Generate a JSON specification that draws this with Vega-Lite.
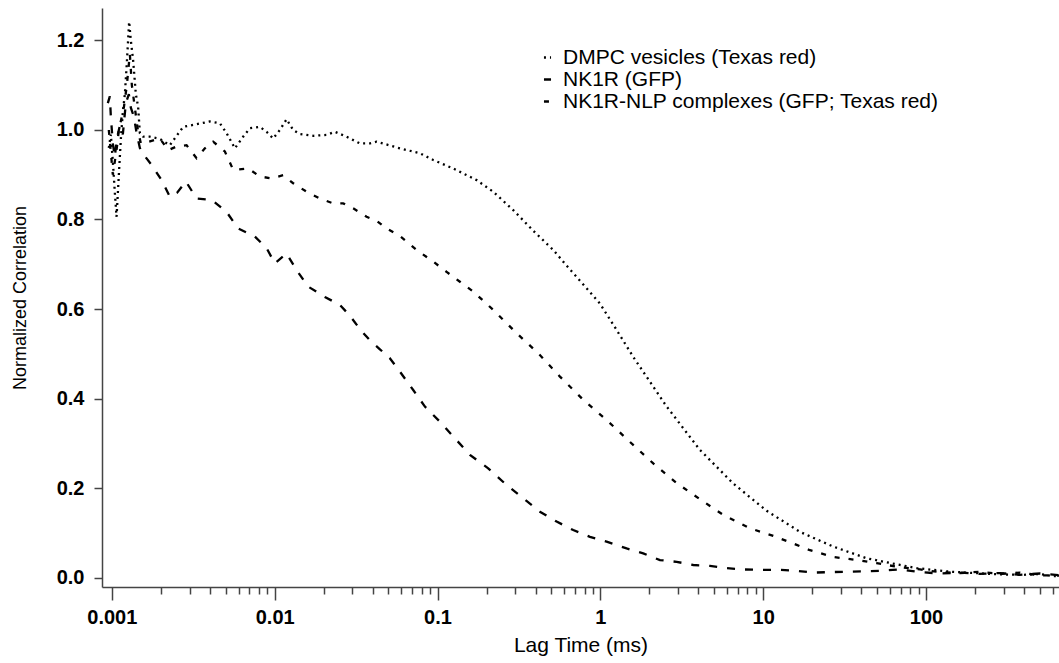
{
  "$schema": "https://vega.github.io/schema/vega-lite/v6.json",
  "width": 957,
  "height": 579,
  "autosize": {"type": "none"},
  "padding": {"left": 102, "top": 8, "right": 0, "bottom": 76},
  "background": "white",
  "config": {"view": {"stroke": null}, "font": "Liberation Sans"},
  "data": {"values": [
    {"s":"DMPC","t":0.000958,"g":0.96},{"s":"DMPC","t":0.000986,"g":0.99},{"s":"DMPC","t":0.001014,"g":0.93},{"s":"DMPC","t":0.001043,"g":0.86},{"s":"DMPC","t":0.001069,"g":0.806},{"s":"DMPC","t":0.001104,"g":0.9},{"s":"DMPC","t":0.001136,"g":0.98},{"s":"DMPC","t":0.001168,"g":1.04},{"s":"DMPC","t":0.001202,"g":1.08},{"s":"DMPC","t":0.001236,"g":1.15},{"s":"DMPC","t":0.001277,"g":1.242},{"s":"DMPC","t":0.001308,"g":1.2},{"s":"DMPC","t":0.001351,"g":1.156},{"s":"DMPC","t":0.001404,"g":1.08},{"s":"DMPC","t":0.00145,"g":1.052},{"s":"DMPC","t":0.001486,"g":0.993},{"s":"DMPC","t":0.001557,"g":0.985},{"s":"DMPC","t":0.001712,"g":0.985},{"s":"DMPC","t":0.001972,"g":0.98},{"s":"DMPC","t":0.00227,"g":0.966},{"s":"DMPC","t":0.002742,"g":1.007},{"s":"DMPC","t":0.003314,"g":1.013},{"s":"DMPC","t":0.003999,"g":1.019},{"s":"DMPC","t":0.004607,"g":1.015},{"s":"DMPC","t":0.005064,"g":0.993},{"s":"DMPC","t":0.005696,"g":0.959},{"s":"DMPC","t":0.006404,"g":0.985},{"s":"DMPC","t":0.007041,"g":1.004},{"s":"DMPC","t":0.008111,"g":1.007},{"s":"DMPC","t":0.008918,"g":0.996},{"s":"DMPC","t":0.00979,"g":0.981},{"s":"DMPC","t":0.01076,"g":1.0},{"s":"DMPC","t":0.01183,"g":1.024},{"s":"DMPC","t":0.01299,"g":1.0},{"s":"DMPC","t":0.01428,"g":0.991},{"s":"DMPC","t":0.01724,"g":0.987},{"s":"DMPC","t":0.02084,"g":0.989},{"s":"DMPC","t":0.02343,"g":0.996},{"s":"DMPC","t":0.02765,"g":0.985},{"s":"DMPC","t":0.03337,"g":0.97},{"s":"DMPC","t":0.03844,"g":0.97},{"s":"DMPC","t":0.04226,"g":0.974},{"s":"DMPC","t":0.05875,"g":0.959},{"s":"DMPC","t":0.07794,"g":0.948},{"s":"DMPC","t":0.09411,"g":0.933},{"s":"DMPC","t":0.1249,"g":0.914},{"s":"DMPC","t":0.1739,"g":0.888},{"s":"DMPC","t":0.2199,"g":0.862},{"s":"DMPC","t":0.2918,"g":0.821},{"s":"DMPC","t":0.3871,"g":0.775},{"s":"DMPC","t":0.5136,"g":0.732},{"s":"DMPC","t":0.6209,"g":0.697},{"s":"DMPC","t":0.7853,"g":0.655},{"s":"DMPC","t":0.9944,"g":0.612},{"s":"DMPC","t":1.25,"g":0.555},{"s":"DMPC","t":1.592,"g":0.493},{"s":"DMPC","t":2.555,"g":0.382},{"s":"DMPC","t":4.091,"g":0.285},{"s":"DMPC","t":6.551,"g":0.21},{"s":"DMPC","t":10.51,"g":0.149},{"s":"DMPC","t":16.83,"g":0.102},{"s":"DMPC","t":26.96,"g":0.069},{"s":"DMPC","t":43.23,"g":0.043},{"s":"DMPC","t":69.23,"g":0.028},{"s":"DMPC","t":87.7,"g":0.021},{"s":"DMPC","t":140.5,"g":0.013},{"s":"DMPC","t":200,"g":0.01},{"s":"DMPC","t":284.8,"g":0.007},{"s":"DMPC","t":400,"g":0.006},{"s":"DMPC","t":500,"g":0.008},{"s":"DMPC","t":602.7,"g":0.003},{"s":"DMPC","t":656,"g":0.003},

    {"s":"NK1R","t":0.000945,"g":1.06},{"s":"NK1R","t":0.000972,"g":1.075},{"s":"NK1R","t":0.000986,"g":1.03},{"s":"NK1R","t":0.001014,"g":0.97},{"s":"NK1R","t":0.001043,"g":0.94},{"s":"NK1R","t":0.001073,"g":0.98},{"s":"NK1R","t":0.00112,"g":1.01},{"s":"NK1R","t":0.001168,"g":0.99},{"s":"NK1R","t":0.001219,"g":1.06},{"s":"NK1R","t":0.001272,"g":1.08},{"s":"NK1R","t":0.001308,"g":1.05},{"s":"NK1R","t":0.001365,"g":1.03},{"s":"NK1R","t":0.001424,"g":0.99},{"s":"NK1R","t":0.001486,"g":0.96},{"s":"NK1R","t":0.001522,"g":0.951},{"s":"NK1R","t":0.001754,"g":0.922},{"s":"NK1R","t":0.00202,"g":0.888},{"s":"NK1R","t":0.002271,"g":0.851},{"s":"NK1R","t":0.002518,"g":0.86},{"s":"NK1R","t":0.002848,"g":0.885},{"s":"NK1R","t":0.003314,"g":0.847},{"s":"NK1R","t":0.004096,"g":0.844},{"s":"NK1R","t":0.005064,"g":0.817},{"s":"NK1R","t":0.005968,"g":0.78},{"s":"NK1R","t":0.007556,"g":0.762},{"s":"NK1R","t":0.008918,"g":0.736},{"s":"NK1R","t":0.01003,"g":0.702},{"s":"NK1R","t":0.01183,"g":0.724},{"s":"NK1R","t":0.01363,"g":0.687},{"s":"NK1R","t":0.01606,"g":0.65},{"s":"NK1R","t":0.02034,"g":0.627},{"s":"NK1R","t":0.02515,"g":0.609},{"s":"NK1R","t":0.02897,"g":0.585},{"s":"NK1R","t":0.03337,"g":0.555},{"s":"NK1R","t":0.03844,"g":0.53},{"s":"NK1R","t":0.04428,"g":0.51},{"s":"NK1R","t":0.051,"g":0.49},{"s":"NK1R","t":0.05875,"g":0.46},{"s":"NK1R","t":0.07092,"g":0.419},{"s":"NK1R","t":0.08368,"g":0.382},{"s":"NK1R","t":0.1035,"g":0.348},{"s":"NK1R","t":0.1279,"g":0.311},{"s":"NK1R","t":0.1582,"g":0.274},{"s":"NK1R","t":0.2048,"g":0.244},{"s":"NK1R","t":0.2594,"g":0.21},{"s":"NK1R","t":0.3361,"g":0.177},{"s":"NK1R","t":0.4256,"g":0.147},{"s":"NK1R","t":0.539,"g":0.125},{"s":"NK1R","t":0.6816,"g":0.106},{"s":"NK1R","t":0.8633,"g":0.091},{"s":"NK1R","t":1.093,"g":0.08},{"s":"NK1R","t":1.45,"g":0.065},{"s":"NK1R","t":1.834,"g":0.054},{"s":"NK1R","t":2.323,"g":0.039},{"s":"NK1R","t":2.943,"g":0.035},{"s":"NK1R","t":3.721,"g":0.028},{"s":"NK1R","t":4.712,"g":0.026},{"s":"NK1R","t":5.968,"g":0.021},{"s":"NK1R","t":7.548,"g":0.018},{"s":"NK1R","t":9.557,"g":0.017},{"s":"NK1R","t":12.68,"g":0.017},{"s":"NK1R","t":16.06,"g":0.015},{"s":"NK1R","t":20.23,"g":0.011},{"s":"NK1R","t":32.58,"g":0.013},{"s":"NK1R","t":52.18,"g":0.015},{"s":"NK1R","t":69.23,"g":0.018},{"s":"NK1R","t":91.89,"g":0.012},{"s":"NK1R","t":121.9,"g":0.009},{"s":"NK1R","t":161.8,"g":0.011},{"s":"NK1R","t":214.7,"g":0.008},{"s":"NK1R","t":284.8,"g":0.01},{"s":"NK1R","t":377.8,"g":0.006},{"s":"NK1R","t":501.4,"g":0.009},{"s":"NK1R","t":656.2,"g":0.005},

    {"s":"NLP","t":0.000958,"g":1.0},{"s":"NLP","t":0.000986,"g":0.95},{"s":"NLP","t":0.001014,"g":0.9},{"s":"NLP","t":0.001043,"g":0.93},{"s":"NLP","t":0.001073,"g":0.96},{"s":"NLP","t":0.001104,"g":1.0},{"s":"NLP","t":0.001136,"g":1.02},{"s":"NLP","t":0.001185,"g":1.05},{"s":"NLP","t":0.001236,"g":1.1},{"s":"NLP","t":0.00129,"g":1.17},{"s":"NLP","t":0.001327,"g":1.1},{"s":"NLP","t":0.001384,"g":1.05},{"s":"NLP","t":0.001444,"g":1.0},{"s":"NLP","t":0.001507,"g":0.97},{"s":"NLP","t":0.001557,"g":0.97},{"s":"NLP","t":0.001972,"g":0.981},{"s":"NLP","t":0.002218,"g":0.955},{"s":"NLP","t":0.002497,"g":0.963},{"s":"NLP","t":0.002877,"g":0.966},{"s":"NLP","t":0.003314,"g":0.937},{"s":"NLP","t":0.003727,"g":0.959},{"s":"NLP","t":0.00419,"g":0.974},{"s":"NLP","t":0.004944,"g":0.952},{"s":"NLP","t":0.005561,"g":0.911},{"s":"NLP","t":0.006874,"g":0.914},{"s":"NLP","t":0.008111,"g":0.896},{"s":"NLP","t":0.009571,"g":0.892},{"s":"NLP","t":0.01128,"g":0.899},{"s":"NLP","t":0.01299,"g":0.881},{"s":"NLP","t":0.0157,"g":0.862},{"s":"NLP","t":0.01896,"g":0.847},{"s":"NLP","t":0.02288,"g":0.836},{"s":"NLP","t":0.02635,"g":0.836},{"s":"NLP","t":0.03036,"g":0.825},{"s":"NLP","t":0.03668,"g":0.806},{"s":"NLP","t":0.04226,"g":0.797},{"s":"NLP","t":0.04868,"g":0.78},{"s":"NLP","t":0.05875,"g":0.763},{"s":"NLP","t":0.07439,"g":0.732},{"s":"NLP","t":0.09411,"g":0.706},{"s":"NLP","t":0.1137,"g":0.683},{"s":"NLP","t":0.1373,"g":0.661},{"s":"NLP","t":0.1657,"g":0.639},{"s":"NLP","t":0.2199,"g":0.598},{"s":"NLP","t":0.3061,"g":0.546},{"s":"NLP","t":0.4155,"g":0.501},{"s":"NLP","t":0.5648,"g":0.449},{"s":"NLP","t":0.7853,"g":0.397},{"s":"NLP","t":1.093,"g":0.352},{"s":"NLP","t":1.52,"g":0.303},{"s":"NLP","t":2.113,"g":0.255},{"s":"NLP","t":2.943,"g":0.211},{"s":"NLP","t":4.091,"g":0.175},{"s":"NLP","t":5.687,"g":0.14},{"s":"NLP","t":8.298,"g":0.11},{"s":"NLP","t":11.54,"g":0.093},{"s":"NLP","t":16.06,"g":0.073},{"s":"NLP","t":19.39,"g":0.061},{"s":"NLP","t":26.96,"g":0.046},{"s":"NLP","t":37.53,"g":0.039},{"s":"NLP","t":49.8,"g":0.032},{"s":"NLP","t":69.23,"g":0.023},{"s":"NLP","t":91.89,"g":0.018},{"s":"NLP","t":121.9,"g":0.012},{"s":"NLP","t":161.8,"g":0.01},{"s":"NLP","t":214.7,"g":0.013},{"s":"NLP","t":284.8,"g":0.008},{"s":"NLP","t":377.8,"g":0.011},{"s":"NLP","t":501.4,"g":0.005},{"s":"NLP","t":656.2,"g":0.004}
  ]},
  "mark": {"type": "line", "color": "black", "strokeWidth": 2.3, "strokeCap": "butt", "clip": true},
  "encoding": {
    "x": {
      "field": "t", "type": "quantitative",
      "scale": {"type": "log", "domain": [0.00087, 656], "nice": false},
      "axis": {
        "title": "Lag Time (ms)",
        "values": [0.001,0.002,0.003,0.004,0.005,0.006,0.007,0.008,0.009,0.01,0.02,0.03,0.04,0.05,0.06,0.07,0.08,0.09,0.1,0.2,0.3,0.4,0.5,0.6,0.7,0.8,0.9,1,2,3,4,5,6,7,8,9,10,20,30,40,50,60,70,80,90,100,200,300,400,500,600],
        "labelExpr": "abs(log(datum.value)/LN10 - round(log(datum.value)/LN10)) < 0.001 ? format(datum.value, '~g') : ''",
        "tickSize": {"condition": {"test": "abs(log(datum.value)/LN10 - round(log(datum.value)/LN10)) < 0.001", "value": 13}, "value": 7},
        "labelOverlap": false, "labelFlush": false,
        "labelFont": "Liberation Sans", "labelFontWeight": "bold", "labelFontSize": 20, "labelColor": "black",
        "labelPadding": 7,
        "titleFont": "Liberation Sans", "titleFontWeight": "normal", "titleFontSize": 21, "titleColor": "black", "titlePadding": 7,
        "domainColor": "#444", "tickColor": "#444", "domainWidth": 1.5, "tickWidth": 1.5, "grid": false
      }
    },
    "y": {
      "field": "g", "type": "quantitative",
      "scale": {"domain": [-0.0212, 1.2726], "nice": false, "zero": false},
      "axis": {
        "title": "Normalized Correlation",
        "values": [0, 0.2, 0.4, 0.6, 0.8, 1.0, 1.2],
        "format": ".1f",
        "tickSize": 8, "labelPadding": 10,
        "labelFont": "Liberation Sans", "labelFontWeight": "bold", "labelFontSize": 20, "labelColor": "black",
        "titleFont": "Liberation Sans", "titleFontWeight": "normal", "titleFontSize": 18, "titleColor": "black", "titlePadding": 27,
        "domainColor": "#444", "tickColor": "#444", "domainWidth": 1.5, "tickWidth": 1.5, "grid": false
      }
    },
    "strokeDash": {
      "field": "s", "type": "nominal",
      "scale": {"domain": ["DMPC", "NK1R", "NLP"], "range": [[2, 4], [8, 10], [5, 9]]},
      "legend": {
        "title": null, "orient": "none", "legendX": 435, "legendY": 39,
        "labelExpr": "datum.label == 'DMPC' ? 'DMPC vesicles (Texas red)' : datum.label == 'NK1R' ? 'NK1R (GFP)' : 'NK1R-NLP complexes (GFP; Texas red)'",
        "labelLimit": 0,
        "symbolType": "stroke", "symbolStrokeColor": "black", "symbolStrokeWidth": 2.5, "symbolSize": 50,
        "labelFont": "Liberation Sans", "labelFontSize": 21, "labelColor": "black", "labelOffset": 5, "rowPadding": 0
      }
    }
  }
}
